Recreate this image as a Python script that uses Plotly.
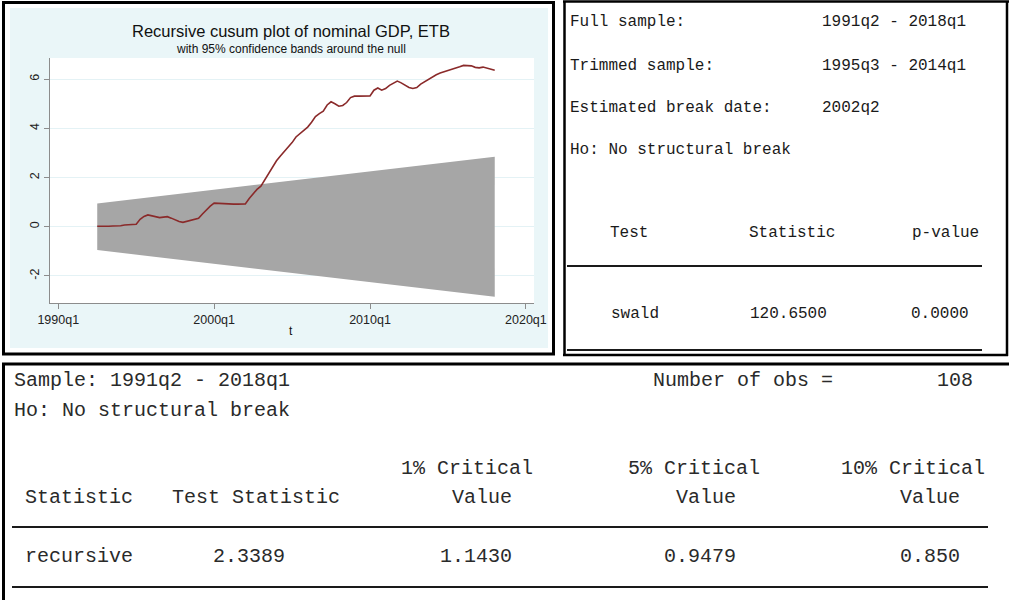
import plotly.graph_objects as go
import pandas as pd

W, H = 1009, 600

# ---- CUSUM chart data (quarterly, recursive residuals start 1992q3) ----
cusum_start = "1992Q3"
cusum = [
    0.02, 0.01,                     # 1992
    0.02, 0.02, 0.03, 0.03,         # 1993
    0.04, 0.07, 0.08, 0.09,         # 1994
    0.10, 0.30, 0.42, 0.48,         # 1995
    0.44, 0.38, 0.37, 0.39,         # 1996
    0.41, 0.35, 0.28, 0.21,         # 1997
    0.18, 0.22, 0.27, 0.31,         # 1998
    0.34, 0.52, 0.70, 0.84,         # 1999
    0.96, 0.95, 0.92, 0.92,         # 2000
    0.92, 0.92, 0.92, 0.92,         # 2001
    0.93, 1.15, 1.35, 1.52,         # 2002
    1.65, 1.92, 2.18, 2.45,         # 2003
    2.68, 2.88, 3.05, 3.25,         # 2004
    3.42, 3.65, 3.78, 3.92,         # 2005
    4.05, 4.25, 4.48, 4.60,         # 2006
    4.70, 4.95, 5.08, 5.00,         # 2007
    4.90, 4.93, 5.05, 5.25,         # 2008
    5.31, 5.31, 5.31, 5.31,         # 2009
    5.32, 5.55, 5.64, 5.55,         # 2010
    5.62, 5.75, 5.85, 5.92,         # 2011
    5.85, 5.74, 5.66, 5.62,         # 2012
    5.66, 5.80, 5.90, 6.00,         # 2013
    6.10, 6.18, 6.25, 6.30,         # 2014
    6.33, 6.38, 6.42, 6.50,         # 2015
    6.56, 6.56, 6.54, 6.48,         # 2016
    6.46, 6.49, 6.45, 6.42,         # 2017
    6.36,                           # 2018
]
band_dates = ["1992q3", "2018q1"]
band_upper = [0.948, 2.844]
band_lower = [-0.948, -2.844]
x_tick_labels = ["1990q1", "2000q1", "2010q1", "2020q1"]
y_tick_values = [-2, 0, 2, 4, 6]

chart_title = "Recursive cusum plot of nominal GDP, ETB"
chart_subtitle = "with 95% confidence bands around the null"
x_title = "t"

# ---- sup-Wald test output ----
wald_info = [
    ("Full sample:", "1991q2 - 2018q1"),
    ("Trimmed sample:", "1995q3 - 2014q1"),
    ("Estimated break date:", "2002q2"),
]
wald_h0 = "Ho: No structural break"
wald_header = ["Test", "Statistic", "p-value"]
wald_row = ["swald", "120.6500", "0.0000"]

# ---- CUSUM test output ----
cus_sample = "Sample: 1991q2 - 2018q1"
cus_nobs_label = "Number of obs ="
cus_nobs = "108"
cus_h0 = "Ho: No structural break"
cus_header_top = ["", "", "1% Critical", "5% Critical", "10% Critical"]
cus_header_bot = ["Statistic", "Test Statistic", "Value", "Value", "Value"]
cus_row = ["recursive", "2.3389", "1.1430", "0.9479", "0.850"]


def qnum(label):
    yr, q = label.lower().split("q")
    return int(yr) + (int(q) - 1) / 4


def px(x):
    return x / W


def py(y):
    return 1 - y / H


periods = pd.period_range(cusum_start, periods=len(cusum), freq="Q")
cusum_x = [p.year + (p.quarter - 1) / 4 for p in periods]
bx = [qnum(d) for d in band_dates]

fig = go.Figure()

# confidence band
fig.add_trace(go.Scatter(
    x=[bx[0], bx[1], bx[1], bx[0]],
    y=[band_upper[0], band_upper[1], band_lower[1], band_lower[0]],
    fill="toself", fillcolor="#A6A6A6", mode="lines",
    line=dict(width=0, color="#A6A6A6"), hoverinfo="skip", showlegend=False,
))
# cusum line
fig.add_trace(go.Scatter(
    x=cusum_x, y=cusum, mode="lines",
    line=dict(color="#8A2A2A", width=1.6), showlegend=False,
))

shapes = []
# chart panel: frame, light-cyan graph region, white plot region
shapes.append(dict(type="rect", xref="paper", yref="paper",
                   x0=px(3.5), x1=px(553.5), y0=py(354), y1=py(2.5),
                   line=dict(color="black", width=3), fillcolor="white", layer="below"))
shapes.append(dict(type="rect", xref="paper", yref="paper",
                   x0=px(10), x1=px(548), y0=py(348), y1=py(8),
                   line=dict(width=0), fillcolor="#EAF6F8", layer="below"))
shapes.append(dict(type="rect", xref="paper", yref="paper",
                   x0=px(50), x1=px(534), y0=py(303), y1=py(58),
                   line=dict(width=0), fillcolor="white", layer="below"))

# right panel frame
for (x0, y0, x1, y1) in [(563, 1.5, 1009, 1.5), (564.5, 1, 564.5, 356),
                         (563, 355, 1008, 355), (1007, 1, 1007, 356)]:
    shapes.append(dict(type="line", xref="paper", yref="paper",
                       x0=px(x0), x1=px(x1), y0=py(y0), y1=py(y1),
                       line=dict(color="black", width=2.5)))
# bottom panel frame
for (x0, y0, x1, y1) in [(2, 364, 1009, 364), (3.5, 363, 3.5, 600)]:
    shapes.append(dict(type="line", xref="paper", yref="paper",
                       x0=px(x0), x1=px(x1), y0=py(y0), y1=py(y1),
                       line=dict(color="black", width=3)))
# table rules
for (x0, x1, y) in [(567, 982, 266), (567, 982, 350), (12, 988, 527), (12, 988, 587)]:
    shapes.append(dict(type="line", xref="paper", yref="paper",
                       x0=px(x0), x1=px(x1), y0=py(y), y1=py(y),
                       line=dict(color="#1a1a1a", width=2)))

annotations = []
SANS = "Liberation Sans, Arial, sans-serif"
MONO = "Liberation Mono, Courier New, monospace"


def text(t, x, y, anchor="left", size=15, family=MONO, color="#1a1a1a"):
    annotations.append(dict(text=t, x=px(x), y=py(y), xref="paper", yref="paper",
                            xanchor=anchor, yanchor="middle", showarrow=False,
                            font=dict(family=family, size=size, color=color)))


# chart titles
text(chart_title, 291, 31, "center", 16.5, SANS, "#111")
text(chart_subtitle, 291, 49, "center", 12, SANS, "#111")
text(x_title, 291, 331, "center", 12, SANS, "#111")

# sup-Wald block
WS = 16
info_y = [22, 66, 108]
for (lab, val), yy in zip(wald_info, info_y):
    text(lab, 568, yy, "left", WS)
    text(val, 820, yy, "left", WS)
text(wald_h0, 568, 150, "left", WS)
for t, xx, anc in zip(wald_header, [629, 792, 981], ["center", "center", "right"]):
    text(t, xx, 233, anc, WS)
for t, xx, anc in zip(wald_row, [635, 788, 971], ["center", "center", "right"]):
    text(t, xx, 314, anc, WS)

# CUSUM test block
BS = 20
BC = "#2a2a2a"
text(cus_sample, 12, 380, "left", BS, color=BC)
text(cus_nobs_label, 651, 380, "left", BS, color=BC)
text(cus_nobs, 975, 380, "right", BS, color=BC)
text(cus_h0, 12, 410, "left", BS, color=BC)
col_centers = [79, 256, 482, 706, 930]
top_centers = [79, 256, 467, 694, 913]
for t, xx in zip(cus_header_top, top_centers):
    if t:
        text(t, xx, 468, "center", BS, color=BC)
for t, xx in zip(cus_header_bot, col_centers):
    text(t, xx, 497, "center", BS, color=BC)
row_centers = [79, 249, 476, 700, 930]
for t, xx in zip(cus_row, row_centers):
    text(t, xx, 556, "center", BS, color=BC)

fig.update_layout(
    width=W, height=H,
    margin=dict(l=0, r=0, t=0, b=0, autoexpand=False),
    paper_bgcolor="white", plot_bgcolor="rgba(0,0,0,0)",
    shapes=shapes, annotations=annotations, showlegend=False,
    xaxis=dict(
        domain=[px(50), px(534)], range=[1989.47, 2020.52], automargin=False,
        tickvals=[qnum(t) for t in x_tick_labels], ticktext=x_tick_labels,
        showgrid=False, zeroline=False, showline=True, linecolor="#8C8C8C", linewidth=1,
        ticks="outside", ticklen=5, tickcolor="#8C8C8C",
        tickfont=dict(family=SANS, size=12.5, color="#222"),
    ),
    yaxis=dict(
        domain=[py(303), py(58)], range=[-3.1, 6.86], automargin=False,
        tickvals=y_tick_values, ticktext=[str(v) for v in y_tick_values],
        tickangle=-90,
        showgrid=True, gridcolor="#E4F2F5", gridwidth=1, zeroline=False,
        showline=True, linecolor="#8C8C8C", linewidth=1,
        ticks="outside", ticklen=5, tickcolor="#8C8C8C",
        tickfont=dict(family=SANS, size=12.5, color="#222"),
    ),
)

fig.write_html("out.html")
